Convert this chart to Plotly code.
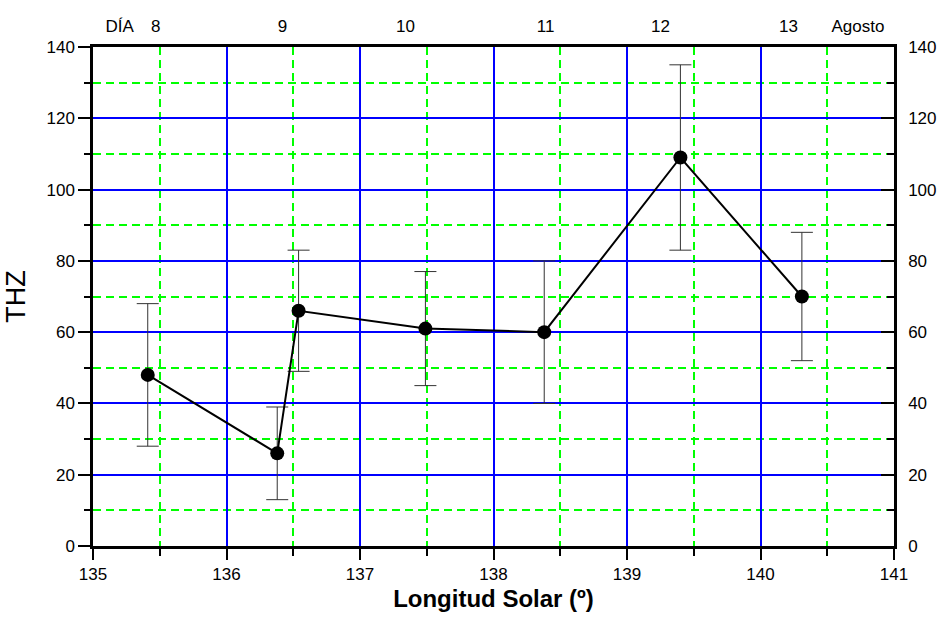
import plotly.graph_objects as go

# Data
lon = [135.41, 136.38, 136.54, 137.49, 138.38, 139.40, 140.31]
thz = [48, 26, 66, 61, 60, 109, 70]
err_plus = [20, 13, 17, 16, 20, 26, 18]
err_minus = [20, 13, 17, 16, 20, 26, 18]

day_pos = [135.2, 135.47, 136.42, 137.34, 138.39, 139.25, 140.21, 140.73]
day_text = ["DÍA", "8", "9", "10", "11", "12", "13", "Agosto"]

FONT = "Liberation Sans, Arial, sans-serif"

fig = go.Figure()
fig.add_trace(go.Scatter(
    x=lon, y=thz, mode="lines+markers",
    line=dict(color="black", width=2),
    marker=dict(color="black", size=14),
    error_y=dict(type="data", symmetric=False, array=err_plus, arrayminus=err_minus,
                 color="#333333", thickness=1, width=11),
    showlegend=False, hoverinfo="skip",
))
# invisible trace to activate secondary axes
fig.add_trace(go.Scatter(x=[135, 141], y=[0, 140], xaxis="x2", yaxis="y2",
                         mode="markers", marker=dict(opacity=0), showlegend=False,
                         hoverinfo="skip"))

fig.update_layout(
    width=949, height=623,
    margin=dict(l=93, r=52, t=47, b=77),
    paper_bgcolor="white", plot_bgcolor="white",
    font=dict(family=FONT, size=17, color="black"),
    xaxis=dict(
        range=[135, 141], dtick=1, tick0=135,
        showline=True, linecolor="black", linewidth=2.5, mirror=True,
        ticks="outside", ticklen=11, tickwidth=2, tickcolor="black",
        showgrid=True, gridcolor="#0000ff", gridwidth=1.5,
        zeroline=False,
        minor=dict(dtick=0.5, tick0=135, ticks="outside", ticklen=7, tickwidth=2,
                   tickcolor="black", showgrid=True, gridcolor="#00ff00",
                   griddash="8px,5px", gridwidth=1.5),
        title=dict(text="<b>Longitud Solar (º)</b>", font=dict(size=24), standoff=8),
        tickfont=dict(size=17),
    ),
    xaxis2=dict(
        range=[135, 141], overlaying="x", side="top",
        tickvals=day_pos, ticktext=day_text,
        ticks="", showline=False, showgrid=False, zeroline=False,
        ticklabelstandoff=11, tickfont=dict(size=17),
    ),
    yaxis=dict(
        range=[0, 140], dtick=20, tick0=0,
        showline=True, linecolor="black", linewidth=2.5,
        ticks="outside", ticklen=12, tickwidth=2, tickcolor="black",
        showgrid=True, gridcolor="#0000ff", gridwidth=1.5,
        zeroline=False,
        minor=dict(dtick=10, tick0=0, ticks="outside", ticklen=6, tickwidth=2,
                   tickcolor="black", showgrid=True, gridcolor="#00ff00",
                   griddash="8px,5px", gridwidth=1.5),
        title=dict(text="THZ", font=dict(size=27), standoff=14),
        tickfont=dict(size=17),
    ),
    yaxis2=dict(
        range=[0, 140], dtick=20, tick0=0, overlaying="y", side="right",
        showline=True, linecolor="black", linewidth=2.5,
        ticks="inside", ticklen=13, tickwidth=2, tickcolor="black",
        minor=dict(dtick=10, tick0=0, ticks="inside", ticklen=7, tickwidth=2,
                   tickcolor="black", showgrid=False),
        showgrid=False, zeroline=False,
        ticklabelstandoff=8, tickfont=dict(size=17),
    ),
)

fig.write_html("out.html")
